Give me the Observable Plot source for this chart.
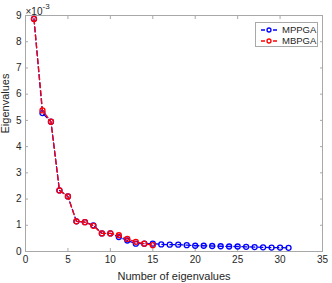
<!DOCTYPE html>
<html>
<head>
<meta charset="utf-8">
<script src="https://cdn.jsdelivr.net/npm/d3@7"></script>
<script src="https://cdn.jsdelivr.net/npm/@observablehq/plot@0.6"></script>
<style>
  body { margin: 0; background: #fff; }
  #wrap { position: relative; width: 332px; height: 283px; font-family: "Liberation Sans", Arial, sans-serif; }
  #legend { position: absolute; left: 255px; top: 22px; width: 63px; height: 25px; border: 1px solid #a8a8a8; background: #fff; font-size: 9.5px; color: #262626; box-sizing: border-box; }
  #legend .row { position: absolute; left: 0; height: 11px; line-height: 11px; white-space: nowrap; }
  #legend svg { position: absolute; left: 3px; top: 0; }
  #legend span { position: absolute; left: 26px; top: 0; }
</style>
</head>
<body>
<div id="wrap"></div>
<script>
// Number of eigenvalue (index)
const idxMPPGA = [1,2,3,4,5,6,7,8,9,10,11,12,13,14,15,16,17,18,19,20,21,22,23,24,25,26,27,28,29,30,31];
// Eigenvalues ×1e-3
const valMPPGA = [8.87,5.28,4.95,2.33,2.10,1.15,1.12,1.00,0.69,0.69,0.55,0.42,0.30,0.30,0.30,0.27,0.26,0.26,0.24,0.22,0.22,0.21,0.20,0.19,0.19,0.18,0.17,0.16,0.15,0.15,0.14];
const idxMBPGA = [1,2,3,4,5,6,7,8,9,10,11,12,13,14,15];
const valMBPGA = [8.87,5.38,4.95,2.33,2.10,1.15,1.12,0.98,0.69,0.69,0.62,0.48,0.37,0.30,0.24];
const seriesNames = ["MPPGA", "MBPGA"];
const seriesColors = ["#0000ff", "#ff0000"];
const xTicks = [0,5,10,15,20,25,30,35];
const yTicks = [0,1,2,3,4,5,6,7,8,9];
const xLabel = "Number of eigenvalues";
const yLabel = "Eigenvalues";

const dataA = idxMPPGA.map((n, i) => ({n, v: valMPPGA[i]}));
const dataB = idxMBPGA.map((n, i) => ({n, v: valMBPGA[i]}));

const font = "Liberation Sans, Arial, sans-serif";
const axisColor = "#262626";
const frameColor = "#a8a8a8";

const chart = Plot.plot({
  width: 332,
  height: 283,
  marginLeft: 25,
  marginRight: 10,
  marginTop: 15,
  marginBottom: 32,
  style: {fontFamily: font, fontSize: "10px", color: axisColor, background: "#fff", overflow: "visible"},
  x: {domain: [0, 35]},
  y: {domain: [0, 9]},
  marks: [
    Plot.frame({stroke: frameColor, strokeWidth: 1}),
    Plot.axisX({ticks: xTicks, tickSize: -3, stroke: frameColor, tickPadding: 7, tickFormat: d => d, label: null, fontSize: 10, fill: axisColor}),
    Plot.axisX({anchor: "top", ticks: xTicks, tickSize: -3, stroke: frameColor, tickFormat: () => "", label: null}),
    Plot.axisY({ticks: yTicks, tickSize: -3, stroke: frameColor, tickPadding: 7, tickFormat: d => d, label: null, fontSize: 10, fill: axisColor}),
    Plot.axisY({anchor: "right", ticks: yTicks, tickSize: -3, stroke: frameColor, tickFormat: () => "", label: null}),
    Plot.line(dataA, {x: "n", y: "v", stroke: seriesColors[0], strokeWidth: 1.3, strokeDasharray: "5,3"}),
    Plot.dot(dataA, {x: "n", y: "v", stroke: seriesColors[0], strokeWidth: 1.3, r: 2.5, fill: "none"}),
    Plot.line(dataB, {x: "n", y: "v", stroke: seriesColors[1], strokeWidth: 1.3, strokeDasharray: "5,3"}),
    Plot.dot(dataB, {x: "n", y: "v", stroke: seriesColors[1], strokeWidth: 1.3, r: 2.5, fill: "none"}),
    Plot.text([xLabel], {frameAnchor: "bottom", dy: 28, text: d => d, fontSize: 11, fill: axisColor}),
    Plot.text([yLabel], {frameAnchor: "left", dx: -20, rotate: -90, text: d => d, fontSize: 11, fill: axisColor}),
    Plot.text(["×10"], {frameAnchor: "top-left", dy: -8, dx: 0, text: d => d, textAnchor: "start", fontSize: 10, fill: axisColor}),
    Plot.text(["-3"], {frameAnchor: "top-left", dy: -12, dx: 17, text: d => d, textAnchor: "start", fontSize: 8, fill: axisColor})
  ]
});

const wrap = document.getElementById("wrap");
wrap.appendChild(chart);

const legend = document.createElement("div");
legend.id = "legend";
seriesNames.forEach((name, i) => {
  const row = document.createElement("div");
  row.className = "row";
  row.style.top = (1 + i * 10.5) + "px";
  row.style.width = "60px";
  const c = seriesColors[i];
  row.innerHTML = `<svg width="20" height="11"><line x1="2" x2="18" y1="6" y2="6" stroke="${c}" stroke-width="1.3" stroke-dasharray="4,2"/><circle cx="10" cy="6" r="2" fill="#fff" stroke="${c}" stroke-width="1.3"/></svg><span>${name}</span>`;
  legend.appendChild(row);
});
wrap.appendChild(legend);
</script>
</body>
</html>
